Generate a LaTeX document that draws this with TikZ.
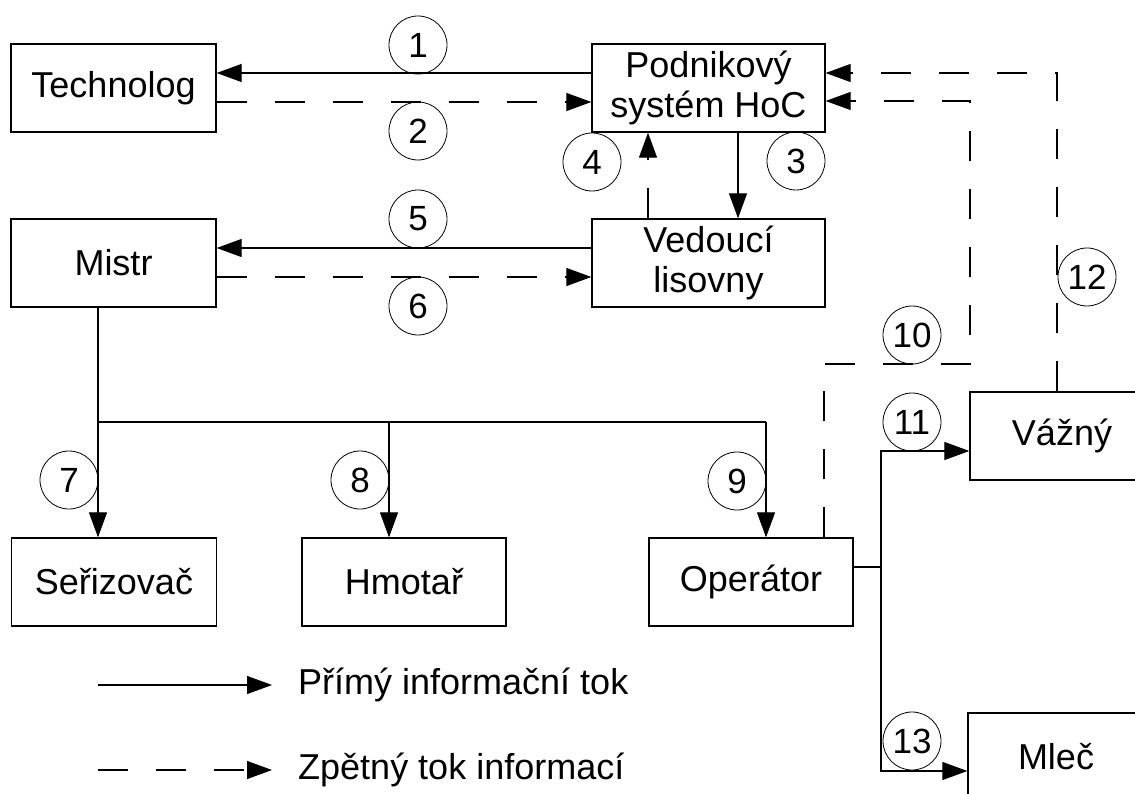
\documentclass[tikz,border=0pt]{standalone}
\usepackage{fontspec}
\setmainfont{Liberation Sans}
\usetikzlibrary{arrows.meta}
\begin{document}
\begin{tikzpicture}[x=1pt,y=-1pt,
  box/.style={draw, line width=1.3pt, inner sep=0pt, align=center,
    minimum width=205pt, minimum height=88pt,
    font=\fontsize{36}{40}\selectfont},
  num/.style={draw, circle, line width=0.8pt, inner sep=0pt,
    minimum size=58pt, font=\fontsize{35}{35}\selectfont},
  flow/.style={line width=1.1pt, -{Triangle[length=25pt,width=18pt]}},
  link/.style={line width=1.1pt},
  back/.style={line width=1.1pt, dash pattern=on 30pt off 28pt,
    -{Triangle[length=25pt,width=18pt]}},
  legtext/.style={anchor=west, inner sep=0pt, font=\fontsize{36}{40}\selectfont}]
\useasboundingbox (0,0) rectangle (1135,794);
\fill[white] (0,0) rectangle (1135,794);
\clip (0,0) rectangle (1135,794);

% boxes
\node[box] (tech)  at (113.5,88)  {Technolog};
\node[box, minimum width=233pt] (hoc) at (708.5,88) {Podnikový\\systém HoC};
\node[box] (mistr) at (113.5,263) {Mistr};
\node[box, minimum width=233pt] (ved) at (708.5,263) {Vedoucí\\lisovny};
\node[box] (ser)   at (114,582)   {Seřizovač};
\node[box, minimum width=204pt] (hmo) at (404,582) {Hmotař};
\node[box, minimum width=204pt] (ope) at (751,582) {Operátor};
\node[box, minimum width=184pt] (vaz) at (1062,436) {Vážný};
\node[box, minimum width=176pt] (mlec) at (1056,757) {Mleč};

% top level exchange
\draw[flow] (hoc.west |- 0,73) -- (tech.east |- 0,73);
\draw[back] (tech.east |- 0,102) -- (hoc.west |- 0,102);
\draw[flow] (hoc.south -| 738,0) -- (ved.north -| 738,0);
\draw[back] (ved.north -| 648,0) -- (hoc.south -| 648,0);
\draw[flow] (ved.west |- 0,248) -- (mistr.east |- 0,248);
\draw[back] (mistr.east |- 0,277) -- (ved.west |- 0,277);

% distribution from the foreman
\coordinate (j7) at (98,422);
\coordinate (j8) at (389,422);
\coordinate (j9) at (766,422);
\draw[link] (mistr.south -| j7) -- (j7) -- (j9);
\draw[flow] (j7) -- (ser.north -| j7);
\draw[flow] (j8) -- (hmo.north -| j8);
\draw[flow] (j9) -- (ope.north -| j9);

% operator outputs
\coordinate (jo) at (881,567);
\coordinate (jv) at (881,451);
\coordinate (jm) at (881,771);
\draw[link] (ope.east |- jo) -- (jo);
\draw[flow] (jo) -- (jv) -- (vaz.west |- jv);
\draw[flow] (jo) -- (jm) -- (mlec.west |- jm);

% feedback to the company system
\coordinate (f10a) at (824,364);
\coordinate (f10b) at (970,364);
\coordinate (f10c) at (970,101);
\draw[back] (ope.north -| f10a) -- (f10a) -- (f10b) -- (f10c) -- (hoc.east |- f10c);
\coordinate (f12a) at (1057,73);
\draw[back] (vaz.north -| f12a) -- (f12a) -- (hoc.east |- f12a);

% flow numbers
\node[num] (n1)  at (418,45)   {1};
\node[num] (n2)  at (418,131)  {2};
\node[num] (n3)  at (796,161)  {3};
\node[num] (n4)  at (592,162)  {4};
\node[num] (n5)  at (418,219)  {5};
\node[num] (n6)  at (418,306)  {6};
\node[num] (n7)  at (69,480)   {7};
\node[num] (n8)  at (360,480)  {8};
\node[num] (n9)  at (737,481)  {9};
\node[num] (n10) at (912,335)  {10};
\node[num] (n11) at (912,422)  {11};
\node[num] (n12) at (1087,277) {12};
\node[num] (n13) at (912,741)  {13};

% legend
\coordinate (la) at (98,685);
\coordinate (lb) at (272,685);
\coordinate (lc) at (98,770);
\coordinate (ld) at (272,770);
\draw[flow] (la) -- (lb);
\draw[back] (lc) -- (ld);
\node[legtext] (leg1) at (298,685) {Přímý informační tok};
\node[legtext] (leg2) at (298,770) {Zpětný tok informací};
\end{tikzpicture}
\end{document}
